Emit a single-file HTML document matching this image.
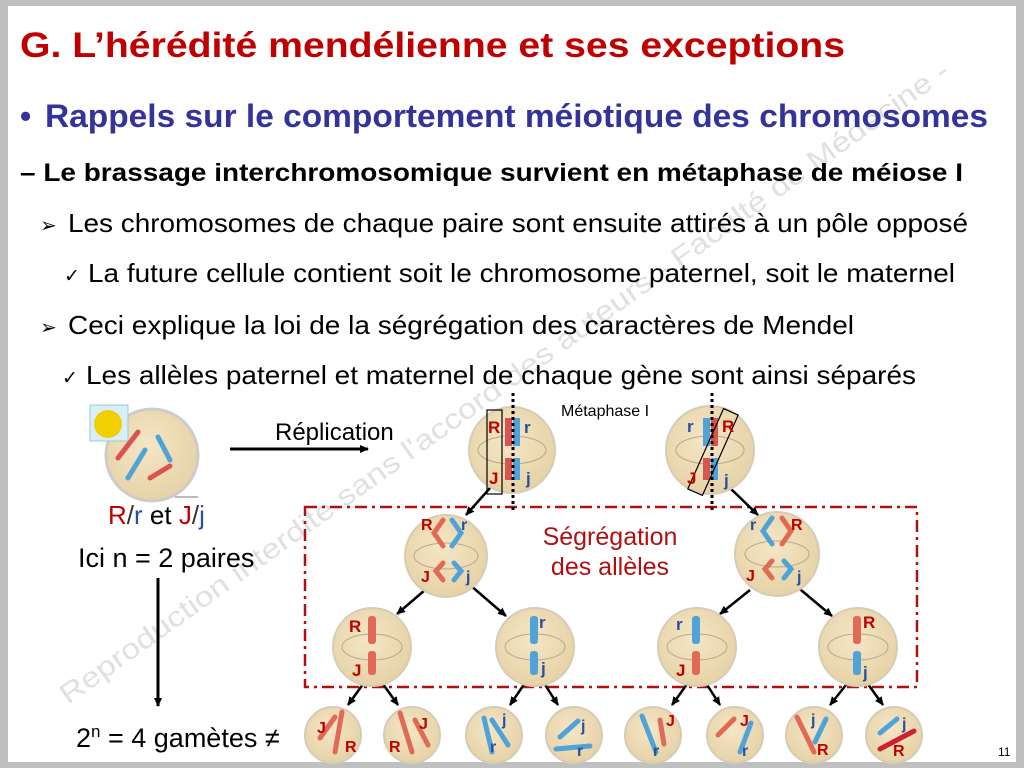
<!DOCTYPE html>
<html><head><meta charset="utf-8"><style>
html,body{margin:0;padding:0;background:#c0c0c0;}
svg{display:block;}
text{font-family:"Liberation Sans",Arial,sans-serif;}
</style></head><body>
<svg width="1024" height="768" viewBox="0 0 1024 768" xmlns="http://www.w3.org/2000/svg">
<defs>
<marker id="ah" markerWidth="10" markerHeight="10" refX="8" refY="5" orient="auto" markerUnits="userSpaceOnUse">
<path d="M0,1 L9,5 L0,9 Z" fill="#000"/></marker>
<radialGradient id="cg" cx="0.45" cy="0.4" r="0.6"><stop offset="0" stop-color="#f4e6c6"/><stop offset="1" stop-color="#e6d2a6"/></radialGradient>
</defs>
<rect x="0" y="0" width="1024" height="768" fill="#c0c0c0"/>
<rect x="8" y="6" width="1008" height="756" fill="#fff"/>

<text x="0" y="0" transform="translate(68,705) rotate(-35.5)" font-size="28" fill="#e0e0e0" textLength="1085" lengthAdjust="spacingAndGlyphs">Reproduction interdite sans l'accord des auteurs - Faculté de Médecine -</text>

<text x="20" y="57" font-size="35" font-weight="bold" fill="#c00000" textLength="825" lengthAdjust="spacingAndGlyphs">G. L’hérédité mendélienne et ses exceptions</text>
<text x="20" y="127" font-size="32" font-weight="bold" fill="#333399">•</text>
<text x="45" y="127" font-size="32" font-weight="bold" fill="#333399" textLength="943" lengthAdjust="spacingAndGlyphs">Rappels sur le comportement méiotique des chromosomes</text>
<text x="20" y="181" font-size="25" font-weight="bold" fill="#000" textLength="943" lengthAdjust="spacingAndGlyphs">– Le brassage interchromosomique survient en métaphase de méiose I</text>
<text x="40" y="232" font-size="20" fill="#000">➢</text>
<text x="68" y="232" font-size="26" fill="#000" textLength="900" lengthAdjust="spacingAndGlyphs">Les chromosomes de chaque paire sont ensuite attirés à un pôle opposé</text>
<text x="64" y="282" font-size="19" fill="#000">✓</text>
<text x="88" y="282" font-size="26" fill="#000" textLength="867" lengthAdjust="spacingAndGlyphs">La future cellule contient soit le chromosome paternel, soit le maternel</text>
<text x="40" y="334" font-size="20" fill="#000">➢</text>
<text x="68" y="334" font-size="26" fill="#000" textLength="786" lengthAdjust="spacingAndGlyphs">Ceci explique la loi de la ségrégation des caractères de Mendel</text>
<text x="62" y="384" font-size="19" fill="#000">✓</text>
<text x="86" y="384" font-size="26" fill="#000" textLength="830" lengthAdjust="spacingAndGlyphs">Les allèles paternel et maternel de chaque gène sont ainsi séparés</text>

<circle cx="152" cy="455" r="46" fill="url(#cg)" stroke="#ccc" stroke-width="3"/>
<line x1="175" y1="497" x2="198" y2="497" stroke="#bbb" stroke-width="2"/>
<rect x="90" y="405" width="38" height="36" fill="#d8eef8" stroke="#9cc" stroke-width="1"/>
<circle cx="108" cy="424" r="14" fill="#f0d000"/>
<line x1="118" y1="458" x2="138" y2="432" stroke="#d9534f" stroke-width="5" stroke-linecap="round"/>
<line x1="128" y1="478" x2="145" y2="450" stroke="#4fa3d9" stroke-width="5" stroke-linecap="round"/>
<line x1="158" y1="437" x2="170" y2="460" stroke="#4fa3d9" stroke-width="5" stroke-linecap="round"/>
<line x1="150" y1="478" x2="170" y2="466" stroke="#d9534f" stroke-width="5" stroke-linecap="round"/>
<text x="108" y="524" font-size="26"><tspan fill="#c00000">R</tspan><tspan fill="#333">/</tspan><tspan fill="#2a4fa0">r</tspan><tspan fill="#000"> et </tspan><tspan fill="#c00000">J</tspan><tspan fill="#333">/</tspan><tspan fill="#2a4fa0">j</tspan></text>
<text x="78" y="567" font-size="27" fill="#000">Ici n = 2 paires</text>
<line x1="158" y1="578" x2="158" y2="706" stroke="#000" stroke-width="3" marker-end="url(#ah)"/>
<text x="76" y="747" font-size="27" fill="#000">2<tspan font-size="17" dy="-10">n</tspan><tspan dy="10"> = 4 gamètes ≠</tspan></text>
<text x="998" y="756" font-size="12" fill="#000">11</text>

<line x1="230" y1="449" x2="368" y2="449" stroke="#000" stroke-width="3" marker-end="url(#ah)"/>
<text x="275" y="440" font-size="24" fill="#000">Réplication</text>
<text x="561" y="416" font-size="16" fill="#000">Métaphase I</text>

<rect x="305" y="507" width="612" height="180" fill="none" stroke="#b01010" stroke-width="2.5" stroke-dasharray="12,5,3,5"/>
<text x="610" y="545" font-size="25" fill="#b01010" text-anchor="middle">Ségrégation</text>
<text x="610" y="575" font-size="25" fill="#b01010" text-anchor="middle">des allèles</text>

<g stroke="#000" stroke-width="2.5" marker-end="url(#ah)">
<line x1="490" y1="488" x2="466" y2="515"/>
<line x1="730" y1="488" x2="758" y2="515"/>
<line x1="425" y1="590" x2="397" y2="614"/>
<line x1="470" y1="585" x2="506" y2="616"/>
<line x1="750" y1="590" x2="720" y2="614"/>
<line x1="795" y1="585" x2="832" y2="616"/>
<line x1="366" y1="680" x2="348" y2="705"/>
<line x1="380" y1="680" x2="398" y2="705"/>
<line x1="527" y1="680" x2="510" y2="705"/>
<line x1="542" y1="680" x2="558" y2="705"/>
<line x1="690" y1="680" x2="672" y2="705"/>
<line x1="704" y1="680" x2="720" y2="705"/>
<line x1="850" y1="680" x2="830" y2="705"/>
<line x1="865" y1="680" x2="883" y2="705"/>
</g>

<g fill="url(#cg)" stroke="#d6ccb6" stroke-width="2">
<circle cx="512" cy="450" r="43"/><circle cx="710" cy="450" r="44"/>
<circle cx="446" cy="556" r="41"/><circle cx="777" cy="554" r="42"/>
<circle cx="372" cy="647" r="39"/><circle cx="535" cy="647" r="39"/>
<circle cx="697" cy="647" r="39"/><circle cx="858" cy="647" r="39"/>
<circle cx="333" cy="735" r="28"/><circle cx="412" cy="735" r="28"/>
<circle cx="494" cy="735" r="28"/><circle cx="574" cy="735" r="28"/>
<circle cx="653" cy="735" r="28"/><circle cx="735" cy="735" r="28"/>
<circle cx="814" cy="735" r="28"/><circle cx="894" cy="735" r="28"/>
</g>
<g fill="none" stroke="#b8a888" stroke-width="1">
<ellipse cx="512" cy="450" rx="34" ry="14"/><ellipse cx="710" cy="450" rx="34" ry="14"/>
<ellipse cx="446" cy="556" rx="32" ry="13"/><ellipse cx="777" cy="554" rx="32" ry="13"/>
<ellipse cx="372" cy="647" rx="30" ry="13"/><ellipse cx="535" cy="647" rx="30" ry="13"/>
<ellipse cx="697" cy="647" rx="30" ry="13"/><ellipse cx="858" cy="647" rx="30" ry="13"/>
</g>

<g>
<rect x="505" y="418" width="7" height="28" fill="#d9534f"/><rect x="513" y="418" width="7" height="28" fill="#4fa3d9"/>
<rect x="505" y="458" width="7" height="22" fill="#d9534f"/><rect x="513" y="458" width="7" height="22" fill="#4fa3d9"/>
<rect x="703" y="418" width="7" height="28" fill="#4fa3d9"/><rect x="711" y="418" width="7" height="28" fill="#d9534f"/>
<rect x="703" y="458" width="7" height="22" fill="#d9534f"/><rect x="711" y="458" width="7" height="22" fill="#4fa3d9"/>
</g>
<line x1="513" y1="393" x2="513" y2="512" stroke="#000" stroke-width="3" stroke-dasharray="3,3"/>
<line x1="712" y1="393" x2="712" y2="510" stroke="#000" stroke-width="3" stroke-dasharray="3,3"/>
<rect x="487" y="410" width="15" height="84" fill="none" stroke="#000" stroke-width="1.2"/>
<rect x="705" y="408" width="16" height="88" fill="none" stroke="#000" stroke-width="1.2" transform="rotate(24 713 452)"/>
<g font-size="17" font-weight="bold">
<text x="488" y="433" fill="#c00000">R</text><text x="524" y="433" fill="#2a4fa0">r</text>
<text x="489" y="484" fill="#c00000">J</text><text x="526" y="484" fill="#2a4fa0">j</text>
<text x="687" y="432" fill="#2a4fa0">r</text><text x="722" y="432" fill="#c00000">R</text>
<text x="687" y="484" fill="#c00000">J</text><text x="724" y="486" fill="#2a4fa0">j</text>
</g>

<g fill="none" stroke-width="5" stroke-linecap="round">
<path d="M443,520 L434,533 L443,546" stroke="#e06a55"/><path d="M452,520 L461,533 L452,546" stroke="#4fa3d9"/>
<path d="M443,563 L436,571 L443,580" stroke="#e06a55"/><path d="M454,563 L461,571 L454,580" stroke="#4fa3d9"/>
<path d="M772,518 L763,531 L772,544" stroke="#4fa3d9"/><path d="M782,518 L791,531 L782,544" stroke="#e06a55"/>
<path d="M772,561 L765,569 L772,578" stroke="#e06a55"/><path d="M784,561 L791,569 L784,578" stroke="#4fa3d9"/>
</g>
<g font-size="16" font-weight="bold">
<text x="421" y="530" fill="#c00000">R</text><text x="461" y="530" fill="#2a4fa0">r</text>
<text x="421" y="582" fill="#c00000">J</text><text x="466" y="582" fill="#2a4fa0">j</text>
<text x="750" y="530" fill="#2a4fa0">r</text><text x="791" y="530" fill="#c00000">R</text>
<text x="746" y="581" fill="#c00000">J</text><text x="797" y="582" fill="#2a4fa0">j</text>
</g>

<g>
<rect x="368" y="616" width="8" height="28" rx="3" fill="#e06a55"/><rect x="368" y="651" width="8" height="24" rx="3" fill="#e06a55"/>
<rect x="530" y="616" width="8" height="28" rx="3" fill="#4fa3d9"/><rect x="530" y="651" width="8" height="24" rx="3" fill="#4fa3d9"/>
<rect x="692" y="616" width="8" height="28" rx="3" fill="#4fa3d9"/><rect x="692" y="651" width="8" height="24" rx="3" fill="#e06a55"/>
<rect x="853" y="616" width="8" height="28" rx="3" fill="#e06a55"/><rect x="853" y="651" width="8" height="24" rx="3" fill="#4fa3d9"/>
</g>
<g font-size="17" font-weight="bold">
<text x="349" y="632" fill="#c00000">R</text><text x="352" y="676" fill="#c00000">J</text>
<text x="539" y="628" fill="#2a4fa0">r</text><text x="541" y="674" fill="#2a4fa0">j</text>
<text x="676" y="630" fill="#2a4fa0">r</text><text x="676" y="676" fill="#c00000">J</text>
<text x="863" y="628" fill="#c00000">R</text><text x="863" y="678" fill="#2a4fa0">j</text>
</g>

<g stroke-width="5" stroke-linecap="round">
<line x1="320" y1="738" x2="335" y2="717" stroke="#e06a55"/><line x1="335" y1="752" x2="342" y2="712" stroke="#e06a55"/>
<line x1="400" y1="713" x2="412" y2="752" stroke="#e06a55"/><line x1="415" y1="720" x2="428" y2="745" stroke="#e06a55"/>
<line x1="484" y1="718" x2="492" y2="752" stroke="#4fa3d9"/><line x1="492" y1="720" x2="508" y2="745" stroke="#4fa3d9"/>
<line x1="560" y1="737" x2="578" y2="721" stroke="#4fa3d9"/><line x1="556" y1="749" x2="590" y2="746" stroke="#4fa3d9"/>
<line x1="642" y1="716" x2="656" y2="752" stroke="#4fa3d9"/><line x1="660" y1="720" x2="664" y2="744" stroke="#e06a55"/>
<line x1="718" y1="735" x2="734" y2="719" stroke="#e06a55"/><line x1="740" y1="752" x2="751" y2="723" stroke="#4fa3d9"/>
<line x1="797" y1="717" x2="814" y2="752" stroke="#e06a55"/><line x1="815" y1="742" x2="826" y2="719" stroke="#4fa3d9"/>
<line x1="880" y1="733" x2="897" y2="719" stroke="#4fa3d9"/><line x1="880" y1="749" x2="914" y2="731" stroke="#d02030"/>
</g>
<g font-size="16" font-weight="bold">
<text x="317" y="733" fill="#c00000">J</text><text x="345" y="752" fill="#c00000">R</text>
<text x="389" y="752" fill="#c00000">R</text><text x="419" y="729" fill="#c00000">J</text>
<text x="502" y="725" fill="#2a4fa0">j</text><text x="490" y="752" fill="#2a4fa0">r</text>
<text x="581" y="731" fill="#2a4fa0">j</text><text x="577" y="756" fill="#2a4fa0">r</text>
<text x="666" y="726" fill="#c00000">J</text><text x="653" y="756" fill="#2a4fa0">r</text>
<text x="740" y="726" fill="#c00000">J</text><text x="742" y="756" fill="#2a4fa0">r</text>
<text x="811" y="725" fill="#2a4fa0">j</text><text x="817" y="755" fill="#c00000">R</text>
<text x="902" y="729" fill="#2a4fa0">j</text><text x="893" y="756" fill="#c00000">R</text>
</g>
</svg>
</body></html>
